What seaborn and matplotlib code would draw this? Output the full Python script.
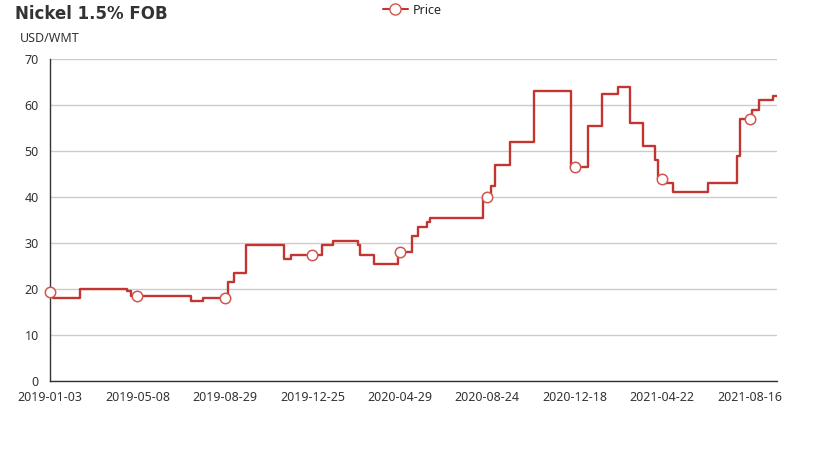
import numpy as np
import pandas as pd
import seaborn as sns
import matplotlib.pyplot as plt
from matplotlib.lines import Line2D

# ------ data ------
# index of the trading day where the price changes, and the new price
step_idx = [0, 3, 27, 70, 74, 129, 140, 163, 168, 179, 214, 220, 249, 259, 282, 284,
            296, 318, 331, 337, 345, 348, 396, 403, 407, 421, 443, 477, 492, 505, 520,
            531, 542, 553, 556, 561, 570, 602, 628, 631, 642, 649, 661, 665]
step_price = [19.3, 18, 20, 19.5, 18.5, 17.5, 18, 21.5, 23.5, 29.5, 26.5, 27.5, 29.5, 30.5,
              29.5, 27.5, 25.5, 28, 31.5, 33.5, 34.5, 35.5, 40, 42.5, 47, 52, 63, 46.5,
              55.5, 62.5, 64, 56, 51, 48, 44, 43, 41, 43, 49, 57, 59, 61, 62, 62]

tick_idx = [0, 80, 160, 240, 320, 400, 480, 560, 640]
tick_labels = ["2019-01-03", "2019-05-08", "2019-08-29", "2019-12-25", "2020-04-29",
               "2020-08-24", "2020-12-18", "2021-04-22", "2021-08-16"]
n_points = 666

red = "#c23531"

df = pd.DataFrame({"idx": step_idx, "Price": step_price})

# marker value at each labelled day
pos = np.searchsorted(step_idx, tick_idx, side="right") - 1
markers = pd.DataFrame({"idx": tick_idx, "Price": [step_price[p] for p in pos]})

sns.set_style("white")
plt.rcParams['font.family'] = ['Noto Sans', 'DejaVu Sans']

fig = plt.figure(figsize=(8.27, 4.55), dpi=100)
ax = fig.add_axes([0.0605, 0.1626, 0.879, 0.7077])

sns.lineplot(data=df, x="idx", y="Price", ax=ax, color=red, linewidth=1.7,
             drawstyle="steps-post", zorder=3)
ax.plot(markers["idx"], markers["Price"], linestyle="none", marker="o", markersize=7.5,
        markerfacecolor="white", markeredgecolor="#d0574f", markeredgewidth=1.1,
        zorder=4, clip_on=False)

ax.set_xlim(0, n_points - 1)
ax.set_ylim(0, 70)
ax.set_yticks(range(0, 71, 10))
ax.set_xticks(tick_idx)
ax.set_xticklabels(tick_labels)
ax.set_xlabel(None)
ax.set_ylabel(None)

ax.grid(axis="y", color="#cccccc", linewidth=1)
ax.grid(axis="x", visible=False)
for s in ["top", "right"]:
    ax.spines[s].set_visible(False)
for s in ["left", "bottom"]:
    ax.spines[s].set_color("#333333")
    ax.spines[s].set_linewidth(1)
ax.tick_params(axis="both", direction="out", length=5, width=1, color="#333333",
               labelsize=9, labelcolor="#333333", pad=3)
ax.tick_params(axis="x", pad=2)

fig.text(15 / 827, 1 - 14 / 455, "Nickel 1.5% FOB", fontsize=12, fontweight="bold",
         family="DejaVu Sans", color="#333333", va="center", ha="left")
fig.text(20 / 827, 1 - 38 / 455, "USD/WMT", fontsize=9, color="#333333",
         va="center", ha="left")

handle = Line2D([], [], color=red, linewidth=1.5, marker="o", markersize=8,
                markerfacecolor="white", markeredgecolor="#d0574f")
fig.legend([handle], ["Price"], loc="center", bbox_to_anchor=(412 / 827, 1 - 10 / 455),
           frameon=False, fontsize=9, handlelength=2, handletextpad=0.4)

fig.savefig("out.png", dpi=100)
